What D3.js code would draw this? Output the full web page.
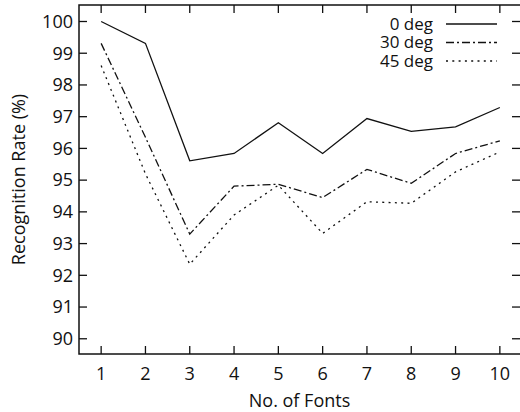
<!DOCTYPE html>
<html>
<head>
<meta charset="utf-8">
<style>
  body{ margin:0; background:#fff; }
  #vis{ display:block; }
  text{ font-family: "Open Sans", "Noto Sans", sans-serif; fill:#111; font-size:18px; }
  .legend text{ font-size:17px; }
</style>
<script src="https://d3js.org/d3.v7.min.js"></script>
</head>
<body>
<svg id="vis"></svg>
<script>
  var width = 520,
    height = 412;

  // data
  var fonts = [1, 2, 3, 4, 5, 6, 7, 8, 9, 10];
  var deg0  = [100, 99.31, 95.61, 95.84, 96.81, 95.84, 96.94, 96.54, 96.68, 97.29];
  var deg30 = [99.31, 96.35, 93.30, 94.81, 94.87, 94.45, 95.34, 94.90, 95.84, 96.24];
  var deg45 = [98.61, 95.20, 92.35, 93.90, 94.84, 93.32, 94.32, 94.27, 95.26, 95.89];
  var seriesNames = ["0 deg", "30 deg", "45 deg"];
  var yTicks = [90, 91, 92, 93, 94, 95, 96, 97, 98, 99, 100];

  var dashes = [null, "8,3,2,3", "2,4.3"];
  var series = [deg0, deg30, deg45];

  // plot frame (named to avoid window.top)
  var pLeft = 79, pRight = 522, pTop = 5, pBottom = 354;

  var x = d3.scaleLinear().domain([0.5, 10.5]).range([pLeft, pRight]);
  var y = d3.scaleLinear().domain([89.52, 100.52]).range([pBottom, pTop]);

  var svg = d3.select("#vis")
    .attr("width", width)
    .attr("height", height);

  // frame
  svg.append("rect")
    .attr("x", pLeft).attr("y", pTop)
    .attr("width", pRight - pLeft).attr("height", pBottom - pTop)
    .style("fill", "none").style("stroke", "#111").style("stroke-width", 1.5);

  // ticks -------------------------------------------------
  var tl = 8;
  var g = svg.append("g").attr("class", "ticks")
    .style("stroke", "#111").style("stroke-width", 1.3);

  fonts.forEach(function(f) {
    g.append("line").attr("x1", x(f)).attr("x2", x(f)).attr("y1", pBottom).attr("y2", pBottom - tl);
    g.append("line").attr("x1", x(f)).attr("x2", x(f)).attr("y1", pTop).attr("y2", pTop + tl);
  });
  yTicks.forEach(function(v) {
    g.append("line").attr("x1", pLeft).attr("x2", pLeft + tl).attr("y1", y(v)).attr("y2", y(v));
    g.append("line").attr("x1", width - 8).attr("x2", width).attr("y1", y(v)).attr("y2", y(v));
  });

  svg.selectAll(".xlab")
    .data(fonts)
    .enter().append("text")
    .attr("class", "xlab")
    .attr("x", d => x(d))
    .attr("y", 380)
    .attr("text-anchor", "middle")
    .text(d => d);

  svg.selectAll(".ylab")
    .data(yTicks)
    .enter().append("text")
    .attr("class", "ylab")
    .attr("x", 73)
    .attr("y", d => y(d))
    .attr("dy", "0.35em")
    .attr("text-anchor", "end")
    .text(d => d);

  // axis titles
  svg.append("text")
    .attr("x", (pLeft + 520) / 2)
    .attr("y", 407)
    .attr("text-anchor", "middle")
    .text("No. of Fonts");

  svg.append("text")
    .attr("transform", "translate(25," + ((pTop + pBottom) / 2) + ") rotate(-90)")
    .attr("text-anchor", "middle")
    .text("Recognition Rate (%)");

  // lines -------------------------------------------------
  var line = d3.line()
    .x((d, i) => x(fonts[i]))
    .y(d => y(d));

  series.forEach(function(s, k) {
    svg.append("path")
      .datum(s)
      .attr("d", line)
      .style("fill", "none")
      .style("stroke", "#111")
      .style("stroke-width", 1.3)
      .style("stroke-dasharray", dashes[k]);
  });

  // legend -------------------------------------------------
  var leg = svg.append("g").attr("class", "legend");
  seriesNames.forEach(function(n, k) {
    var ly = 24 + k * 18.5;
    leg.append("text")
      .attr("x", 433)
      .attr("y", ly)
      .attr("dy", "0.35em")
      .attr("text-anchor", "end")
      .text(n);
    leg.append("line")
      .attr("x1", 446).attr("x2", 497)
      .attr("y1", ly).attr("y2", ly)
      .style("stroke", "#111")
      .style("stroke-width", 1.3)
      .style("stroke-dasharray", dashes[k]);
  });
</script>
</body>
</html>
